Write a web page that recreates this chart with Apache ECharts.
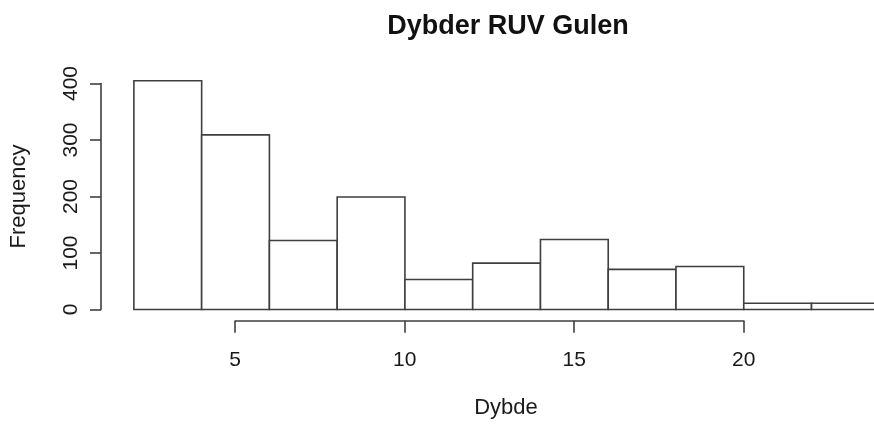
<!DOCTYPE html>
<html>
<head>
<meta charset="utf-8">
<script src="https://cdn.jsdelivr.net/npm/echarts@6/dist/echarts.min.js"></script>
<style>html,body{margin:0;padding:0;background:#fff}#c{width:874px;height:425px}</style>
</head>
<body>
<div id="c"></div>
<script>
// Histogram data (bin edges and counts)
const binStart = [2, 4, 6, 8, 10, 12, 14, 16, 18, 20, 22];
const binEnd   = [4, 6, 8, 10, 12, 14, 16, 18, 20, 22, 24];
const counts   = [405, 309, 122, 199, 53, 82, 124, 71, 76, 11, 11];
const xTicks = [5, 10, 15, 20];
const yTicks = [0, 100, 200, 300, 400];
const titleText = 'Dybder RUV Gulen';
const xName = 'Dybde';
const yName = 'Frequency';

const FONT = 'Liberation Sans, Arial, sans-serif';
const LINE = '#3f3f3f';
const TXT = '#1a1a1a';

const data = binStart.map((s, i) => [s, binEnd[i], counts[i]]);

const chart = echarts.init(document.getElementById('c'), null, {renderer: 'canvas'});
chart.setOption({
  animation: false,
  backgroundColor: '#fff',
  title: [
    {text: titleText, left: 508, top: 13, textAlign: 'center', padding: 0,
     textStyle: {fontFamily: FONT, fontWeight: 'bold', fontSize: 27, color: '#111'}},
    {text: xName, left: 506, top: 397, textAlign: 'center', padding: 0,
     textStyle: {fontFamily: FONT, fontWeight: 'normal', fontSize: 22, color: TXT}}
  ],
  grid: [
    {left: 99.6, top: 72.2, width: 772.9, height: 248.6},
    {left: 235.2, top: 72.2, width: 508.5, height: 248.6},
    {left: 101, top: 83.5, width: 700, height: 226}
  ],
  xAxis: [
    {gridIndex: 0, type: 'value', min: 1, max: 23.8, show: false},
    {gridIndex: 1, type: 'value', min: xTicks[0], max: xTicks[xTicks.length - 1], interval: 5,
     axisLine: {show: true, lineStyle: {color: LINE, width: 1.6}},
     axisTick: {show: true, length: 12, lineStyle: {color: LINE, width: 1.6}},
     axisLabel: {show: true, margin: 29, fontFamily: FONT, fontSize: 21, color: TXT},
     splitLine: {show: false}},
    {gridIndex: 2, type: 'value', min: 0, max: 1, show: false}
  ],
  yAxis: [
    {gridIndex: 0, type: 'value', min: -20, max: 420, interval: 20,
     axisLine: {show: false}, axisTick: {show: false}, axisLabel: {show: false}, splitLine: {show: false},
     name: yName, nameLocation: 'middle', nameGap: 70, nameRotate: 90,
     nameTextStyle: {fontFamily: FONT, fontSize: 22, color: TXT}},
    {gridIndex: 1, type: 'value', min: 0, max: 1, show: false},
    {gridIndex: 2, type: 'value', min: yTicks[0], max: yTicks[yTicks.length - 1], interval: 100,
     axisLine: {show: true, lineStyle: {color: LINE, width: 1.6}},
     axisTick: {show: true, length: 11, lineStyle: {color: LINE, width: 1.6}},
     axisLabel: {show: true, rotate: 90, margin: 19.5, fontFamily: FONT, fontSize: 21, color: TXT},
     splitLine: {show: false}}
  ],
  series: [{
    type: 'custom',
    xAxisIndex: 0, yAxisIndex: 0,
    clip: false,
    data: data,
    renderItem: function (params, api) {
      const p0 = api.coord([api.value(0), api.value(2)]);
      const p1 = api.coord([api.value(1), 0]);
      return {
        type: 'rect',
        shape: {x: p0[0], y: p0[1], width: p1[0] - p0[0], height: p1[1] - p0[1]},
        style: {fill: '#fff', stroke: LINE, lineWidth: 1.6}
      };
    }
  }]
});
</script>
</body>
</html>
